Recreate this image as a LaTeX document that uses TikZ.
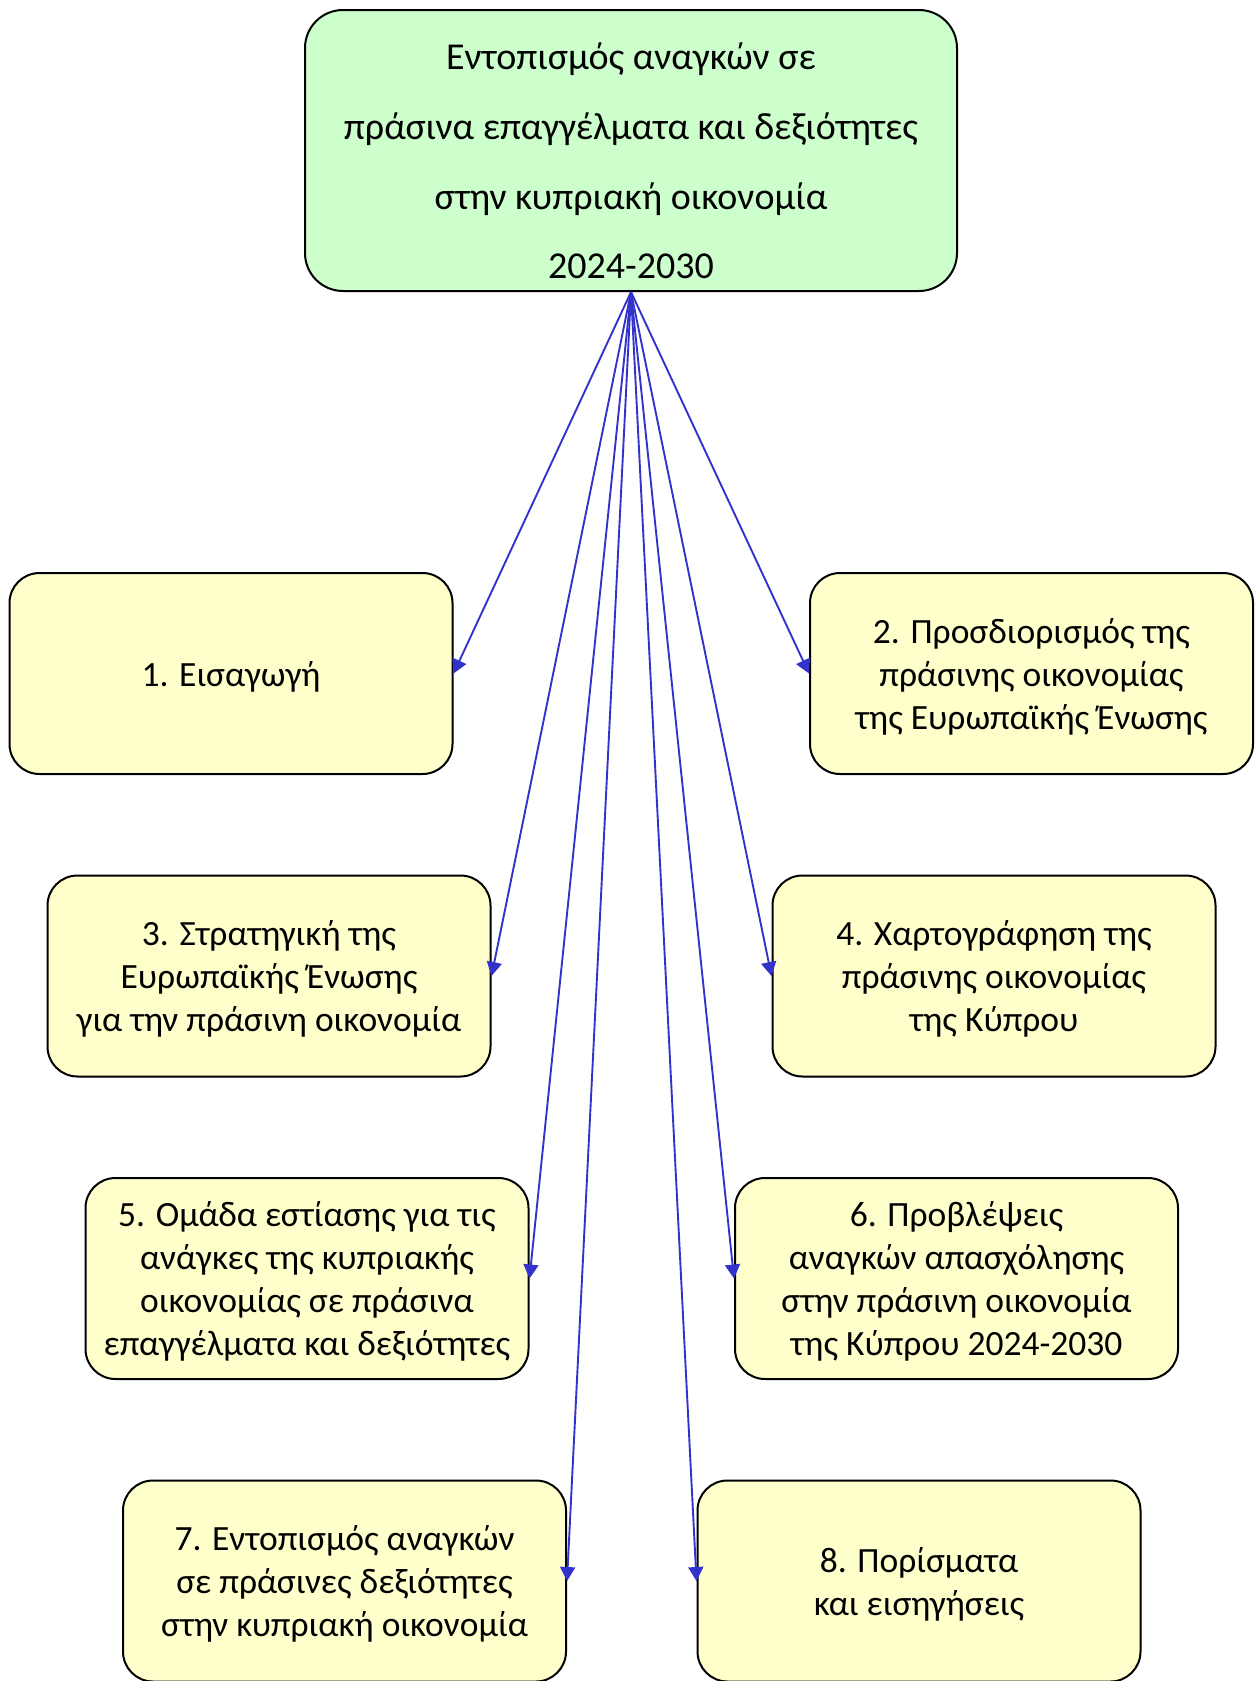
\documentclass[tikz,border=0pt]{standalone}
\usepackage{fontspec}
\setmainfont{Carlito}
\usetikzlibrary{arrows.meta}
\definecolor{topfill}{HTML}{CCFFCC}
\definecolor{boxfill}{HTML}{FFFFCC}
\definecolor{arrowblue}{HTML}{3333CC}
\begin{document}
\begin{tikzpicture}[x=1pt,y=-1pt,
  topbox/.style={draw=black,line width=2pt,fill=topfill,rounded corners=38pt,
    minimum width=652pt,minimum height=281pt,inner sep=0pt},
  titletext/.style={align=center,font=\fontsize{38}{69.7}\selectfont},
  chapbox/.style={draw=black,line width=2pt,fill=boxfill,rounded corners=30pt,
    minimum width=443pt,minimum height=201pt,inner sep=0pt},
  chaptext/.style={align=center,inner sep=0pt,yshift=-3pt,
    font=\fontsize{35.5}{43}\selectfont},
  link/.style={draw=arrowblue,line width=1.9pt,-{Triangle[length=14pt,width=15pt]}}]
\useasboundingbox (0,0) rectangle (1254,1681);

% title box
\node[topbox] (top) at (631,150.5) {};
\node[titletext] (title) at (631,161) {Εντοπισμός αναγκών σε\\πράσινα επαγγέλματα και δεξιότητες\\στην κυπριακή οικονομία\\2024-2030};

% chapter boxes
\node[chapbox] (c1) at (231,673.5) {};
\node[chapbox] (c2) at (1031.5,673.5) {};
\node[chapbox] (c3) at (269,976) {};
\node[chapbox] (c4) at (994,976) {};
\node[chapbox] (c5) at (307,1278.5) {};
\node[chapbox] (c6) at (956.5,1278.5) {};
\node[chapbox] (c7) at (344.5,1581) {};
\node[chapbox] (c8) at (919,1581) {};

% chapter titles
\node[chaptext] (t1) at (c1) {1. Εισαγωγή};
\node[chaptext] (t2) at (c2) {2. Προσδιορισμός της\\πράσινης οικονομίας\\της Ευρωπαϊκής Ένωσης};
\node[chaptext] (t3) at (c3) {3. Στρατηγική της\\Ευρωπαϊκής Ένωσης\\για την πράσινη οικονομία};
\node[chaptext] (t4) at (c4) {4. Χαρτογράφηση της\\πράσινης οικονομίας\\της Κύπρου};
\node[chaptext] (t5) at (c5) {5. Ομάδα εστίασης για τις\\ανάγκες της κυπριακής\\οικονομίας σε πράσινα\\επαγγέλματα και δεξιότητες};
\node[chaptext] (t6) at (c6) {6. Προβλέψεις\\αναγκών απασχόλησης\\στην πράσινη οικονομία\\της Κύπρου 2024-2030};
\node[chaptext] (t7) at (c7) {7. Εντοπισμός αναγκών\\σε πράσινες δεξιότητες\\στην κυπριακή οικονομία};
\node[chaptext] (t8) at (c8) {8. Πορίσματα\\και εισηγήσεις};

% connectors from the title box
\draw[link] (top.south) -- (c1.east);
\draw[link] (top.south) -- (c2.west);
\draw[link] (top.south) -- (c3.east);
\draw[link] (top.south) -- (c4.west);
\draw[link] (top.south) -- (c5.east);
\draw[link] (top.south) -- (c6.west);
\draw[link] (top.south) -- (c7.east);
\draw[link] (top.south) -- (c8.west);
\end{tikzpicture}
\end{document}
